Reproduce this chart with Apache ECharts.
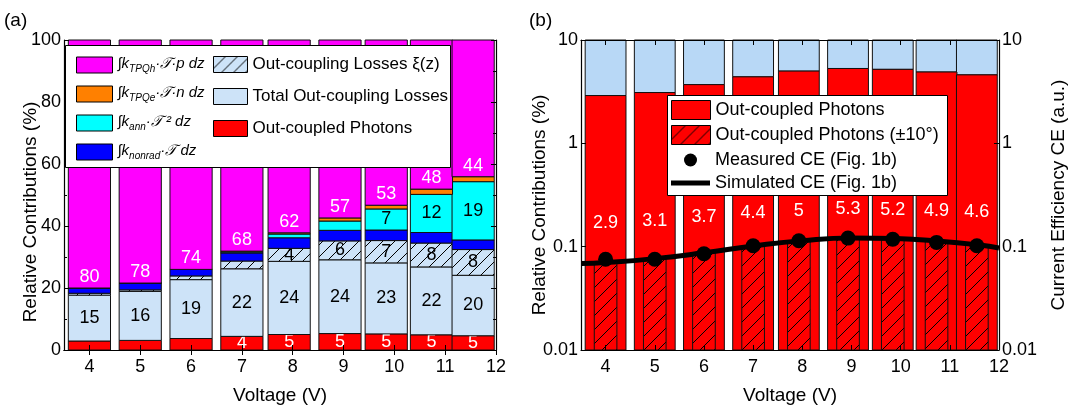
<!DOCTYPE html>
<html>
<head>
<meta charset="utf-8">
<script src="https://cdn.jsdelivr.net/npm/echarts@6/dist/echarts.min.js"></script>
<style>
html, body { margin: 0; padding: 0; background: #fff; }
#chart { width: 1069px; height: 410px; }
</style>
</head>
<body>
<div id="chart"></div>
<script>
// bar positions (V) and axis ticks
var voltages = [4, 5, 6, 7, 7.93, 8.93, 9.84, 10.73, 11.55];
var xTicks = [4, 5, 6, 7, 8, 9, 10, 11, 12];

// (a) relative contributions in %, bottom to top
var photons     = [2.9, 3.1, 3.7, 4.4, 5, 5.3, 5.2, 4.9, 4.6];
var lossesTotal = [14.8, 15.8, 19, 21.8, 23.6, 23.8, 22.9, 21.9, 19.5];
var lossesXi    = [0.6, 0.5, 1.2, 2.5, 4.2, 6.1, 7.2, 7.7, 8.3];
var kNonrad     = [1.7, 2.2, 2.1, 2.6, 3.4, 3.4, 3.4, 3.4, 3.1];
var kAnn        = [0, 0, 0, 0.3, 1.2, 3, 6.8, 12.3, 18.8];
var kTPQe       = [0, 0, 0, 0.3, 0.4, 1, 1.2, 1.7, 1.6];
var kTPQh       = [80, 78.4, 74, 68.1, 62.2, 57.4, 53.3, 48.1, 44.1];

// (b) log scale
var photons10  = [0.070, 0.077, 0.087, 0.1015, 0.114, 0.121, 0.12, 0.113, 0.103];
var measuredCE = [0.0755, 0.0755, 0.0853, 0.102, 0.114, 0.121, 0.118, 0.110, 0.102];
var simV  = [3.5, 4, 5, 6, 7, 8, 9, 9.9, 10.8, 11.6, 12];
var simCE = [0.0688, 0.0702, 0.0766, 0.0873, 0.1015, 0.1144, 0.1215, 0.12, 0.1131, 0.1037, 0.0972];

var FONT = '"Liberation Sans", Arial, Helvetica, sans-serif';
var BAR_W = 0.83, HATCH_W = 0.46;
var B_MIN = 0.01, B_MAX = 10;

function hatch(bg, size) {
    var c = document.createElement('canvas');
    c.width = c.height = size;
    var g = c.getContext('2d');
    g.fillStyle = bg;
    g.fillRect(0, 0, size, size);
    g.strokeStyle = '#000';
    g.lineWidth = 1;
    g.beginPath();
    g.moveTo(0, size); g.lineTo(size, 0);
    g.moveTo(-2, 2); g.lineTo(2, -2);
    g.moveTo(size - 2, size + 2); g.lineTo(size + 2, size - 2);
    g.stroke();
    return { image: c, repeat: 'repeat' };
}

var hatchBlue = hatch('#cde3f8', 12);
var hatchRed = hatch('#ff0000', 14);

// left panel stack, bottom to top
var stackA = [
    { name: 'Out-coupled Photons', values: photons, color: '#ff0000', text: '#fff' },
    { name: 'Total Out-coupling Losses', values: lossesTotal, color: '#cde3f8', text: '#000', always: true },
    { name: 'Out-coupling Losses ξ(z)', values: lossesXi, color: hatchBlue, text: '#000' },
    { name: 'knonrad', values: kNonrad, color: '#0000ff', text: null },
    { name: 'kann', values: kAnn, color: '#00ffff', text: '#000' },
    { name: 'kTPQe', values: kTPQe, color: '#ff8000', text: null },
    { name: 'kTPQh', values: kTPQh, color: '#ff00ff', text: '#fff', bottom: true }
];

var base = voltages.map(function () { return 0; });
var series = [];
stackA.forEach(function (s) {
    var data = voltages.map(function (v, i) {
        var d = [v, base[i], base[i] + s.values[i]];
        base[i] += s.values[i];
        return d;
    });
    series.push({
        type: 'custom',
        name: s.name,
        xAxisIndex: 0,
        yAxisIndex: 0,
        itemStyle: { color: s.color },
        encode: { x: 0, y: [1, 2] },
        data: data,
        z: 2,
        renderItem: function (params, api) {
            var x = api.value(0), lo = api.value(1), hi = api.value(2);
            var w = api.size([BAR_W, 1])[0];
            var p0 = api.coord([x, lo]), p1 = api.coord([x, hi]);
            var kids = [{
                type: 'rect',
                shape: { x: p0[0] - w / 2, y: p1[1], width: w, height: p0[1] - p1[1] },
                style: { fill: s.color, stroke: '#111', lineWidth: 1 }
            }];
            var val = s.values[params.dataIndex];
            if (s.text && (val >= 4 || s.always)) {
                kids.push({
                    type: 'text',
                    x: p0[0],
                    y: s.bottom ? p0[1] - 11 : (p0[1] + p1[1]) / 2,
                    style: {
                        text: String(Math.round(val)), fill: s.text,
                        fontSize: 18, fontFamily: FONT, align: 'center', verticalAlign: 'middle'
                    }
                });
            }
            return { type: 'group', children: kids };
        }
    });
});

// right panel bars
function logBar(name, lowFn, highFn, color, width, labelFn) {
    return {
        type: 'custom',
        name: name,
        xAxisIndex: 2,
        yAxisIndex: 2,
        itemStyle: { color: color },
        data: voltages.map(function (v, i) { return [v, lowFn(i), highFn(i)]; }),
        encode: { x: 0, y: [1, 2] },
        z: 2,
        renderItem: function (params, api) {
            var x = api.value(0), lo = api.value(1), hi = api.value(2);
            var w = api.size([width, 1])[0];
            var p0 = api.coord([x, lo]), p1 = api.coord([x, hi]);
            var kids = [{
                type: 'rect',
                shape: { x: p0[0] - w / 2, y: p1[1], width: w, height: p0[1] - p1[1] },
                style: { fill: color, stroke: '#111', lineWidth: 1 }
            }];
            if (labelFn) {
                kids.push({
                    type: 'text', x: p0[0], y: (p0[1] + p1[1]) / 2,
                    style: {
                        text: labelFn(params.dataIndex), fill: '#fff',
                        fontSize: 18, fontFamily: FONT, align: 'center', verticalAlign: 'middle'
                    }
                });
            }
            return { type: 'group', children: kids };
        }
    };
}

series.push(logBar('bLosses',
    function (i) { return photons[i]; },
    function (i) { return Math.min(photons[i] + lossesTotal[i], B_MAX); },
    '#b8d8f6', BAR_W, null));
series.push(logBar('bPhotons',
    function () { return B_MIN; },
    function (i) { return photons[i]; },
    '#ff0000', BAR_W, function (i) { return String(photons[i]); }));
series.push(logBar('bPhotons10',
    function () { return B_MIN; },
    function (i) { return photons10[i]; },
    hatchRed, HATCH_W, null));

series.push({
    type: 'line',
    name: 'Simulated CE (Fig. 1b)',
    xAxisIndex: 3,
    yAxisIndex: 3,
    data: simV.map(function (v, i) { return [v, simCE[i]]; }),
    smooth: true,
    symbol: 'none',
    lineStyle: { color: '#000', width: 5 },
    itemStyle: { color: '#000' },
    z: 4
});
series.push({
    type: 'scatter',
    name: 'Measured CE (Fig. 1b)',
    xAxisIndex: 3,
    yAxisIndex: 3,
    data: voltages.map(function (v, i) { return [v, measuredCE[i]]; }),
    symbol: 'circle',
    symbolSize: 15,
    itemStyle: { color: '#000', opacity: 1 },
    z: 5
});

var legendText = {
    'kTPQh': '{n|∫}{i|k}{s|TPQh}{i|·𝒯·p dz}',
    'kTPQe': '{n|∫}{i|k}{s|TPQe}{i|·𝒯·n dz}',
    'kann': '{n|∫}{i|k}{s|ann}{i|·𝒯 ² dz}',
    'knonrad': '{n|∫}{i|k}{s|nonrad}{i|·𝒯 dz}',
    'Out-coupling Losses ξ(z)': '{t|Out-coupling Losses ξ(z)}',
    'Total Out-coupling Losses': '{t|Total Out-coupling Losses}',
    'Out-coupled Photons': '{t|Out-coupled Photons}',
    'bPhotons': '{m|Out-coupled Photons}',
    'bPhotons10': '{m|Out-coupled Photons (±10°)}',
    'Measured CE (Fig. 1b)': '{m|Measured CE (Fig. 1b)}',
    'Simulated CE (Fig. 1b)': '{m|Simulated CE (Fig. 1b)}'
};
var richText = {
    n: { fontFamily: FONT, fontSize: 15, color: '#000', verticalAlign: 'top' },
    i: { fontFamily: FONT, fontSize: 15, color: '#000', fontStyle: 'italic', verticalAlign: 'top' },
    s: { fontFamily: FONT, fontSize: 10, color: '#000', fontStyle: 'italic', verticalAlign: 'top', padding: [8, 0, 0, 0] },
    t: { fontFamily: FONT, fontSize: 17, color: '#000' },
    m: { fontFamily: FONT, fontSize: 18, color: '#000' }
};
function legend(opts) {
    return Object.assign({
        orient: 'vertical',
        selectedMode: false,
        itemStyle: { borderColor: '#000', borderWidth: 1 },
        padding: 0,
        z: 20,
        formatter: function (name) { return legendText[name]; },
        textStyle: { rich: richText, padding: [0, 0, 0, 0] }
    }, opts);
}

function axisCommon(extra) {
    return Object.assign({
        axisLine: { show: true, lineStyle: { color: '#000', width: 1.2 } },
        axisTick: { show: true, inside: true, length: 5, lineStyle: { color: '#000' } },
        axisLabel: { fontFamily: FONT, fontSize: 18, color: '#000', margin: 3 },
        splitLine: { show: false },
        nameMoveOverlap: false,
        nameTextStyle: { fontFamily: FONT, fontSize: 19, color: '#000' },
        z: 6
    }, extra);
}

function xAxes(grid) {
    return [
        axisCommon({
            gridIndex: grid, type: 'value', min: 3.5, max: 12, position: 'bottom',
            name: 'Voltage (V)', nameLocation: 'middle', nameGap: 36,
            axisTick: { show: true, inside: true, length: 5, customValues: xTicks, lineStyle: { color: '#000' } },
            axisLabel: { fontFamily: FONT, fontSize: 18, color: '#000', margin: 8, customValues: xTicks }
        }),
        axisCommon({
            gridIndex: grid, type: 'value', min: 3.5, max: 12, position: 'top',
            axisTick: { show: true, inside: true, length: 5, customValues: xTicks, lineStyle: { color: '#000' } },
            axisLabel: { show: false, customValues: xTicks }
        })
    ];
}

var option = {
    animation: false,
    backgroundColor: '#fff',
    grid: [
        { left: 64, top: 40, width: 432, height: 318 },
        { left: 581, top: 40, width: 427, height: 319 }
    ],
    xAxis: xAxes(0).concat(xAxes(1)),
    yAxis: [
        axisCommon({
            gridIndex: 0, type: 'value', min: 0, max: 100, interval: 20,
            name: 'Relative Contributions (%)', nameLocation: 'middle', nameGap: 24, nameRotate: 90,
            nameTextStyle: { fontFamily: FONT, fontSize: 19, color: '#000', padding: [0, 34, 0, 0] },
            minorTick: { show: true, splitNumber: 2, length: 3, lineStyle: { color: '#000' } }
        }),
        axisCommon({
            gridIndex: 0, type: 'value', min: 0, max: 100, interval: 20, position: 'right',
            axisLabel: { show: false },
            minorTick: { show: true, splitNumber: 2, length: 3, lineStyle: { color: '#000' } }
        }),
        axisCommon({
            gridIndex: 1, type: 'log', logBase: 10, min: B_MIN, max: B_MAX,
            name: 'Relative Contributions (%)', nameLocation: 'middle', nameGap: 32, nameRotate: 90,
            nameTextStyle: { fontFamily: FONT, fontSize: 19, color: '#000', padding: [0, 20, 0, 0] }
        }),
        axisCommon({
            gridIndex: 1, type: 'log', logBase: 10, min: B_MIN, max: B_MAX, position: 'right',
            name: 'Current Efficiency CE (a.u.)', nameLocation: 'middle', nameGap: 50, nameRotate: 90
        })
    ],
    legend: [
        legend({ left: 76, top: 56, icon: 'rect', itemWidth: 36, itemHeight: 16, itemGap: 11,
            data: ['kTPQh', 'kTPQe', 'kann', 'knonrad'] }),
        legend({ left: 213, top: 56, icon: 'rect', itemWidth: 34, itemHeight: 16, itemGap: 15,
            data: ['Out-coupling Losses ξ(z)', 'Total Out-coupling Losses', 'Out-coupled Photons'] }),
        legend({ left: 671, top: 100, icon: 'rect', itemWidth: 39, itemHeight: 19, itemGap: 5,
            data: ['bPhotons', 'bPhotons10'] }),
        legend({ left: 671, top: 151, itemWidth: 39, itemHeight: 13, itemGap: 5,
            itemStyle: { opacity: 1 },
            data: [
                { name: 'Measured CE (Fig. 1b)', icon: 'circle' },
                { name: 'Simulated CE (Fig. 1b)', icon: 'path://M0,0L40,0L40,5L0,5Z' }
            ] })
    ],
    graphic: [
        { type: 'rect', left: 65, top: 45, z: 10, shape: { width: 385, height: 122 },
          style: { fill: '#fff', stroke: '#000', lineWidth: 1 } },
        { type: 'rect', left: 667, top: 95, z: 10, shape: { width: 280, height: 100 },
          style: { fill: '#fff', stroke: '#000', lineWidth: 1 } },
        { type: 'text', left: 4, top: 11, z: 10,
          style: { text: '(a)', fontFamily: FONT, fontSize: 19, fill: '#000' } },
        { type: 'text', left: 529, top: 11, z: 10,
          style: { text: '(b)', fontFamily: FONT, fontSize: 19, fill: '#000' } }
    ],
    series: series
};

var myChart = echarts.init(document.getElementById('chart'));
myChart.setOption(option);
</script>
</body>
</html>
